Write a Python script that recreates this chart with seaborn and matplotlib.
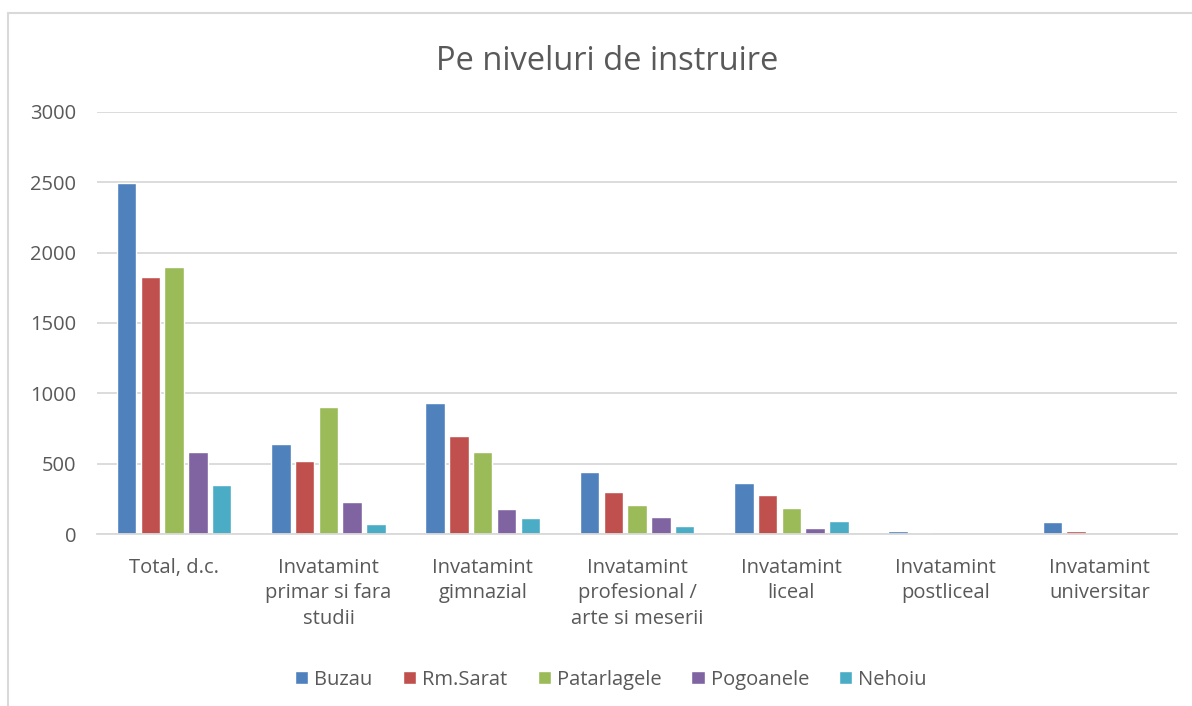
import matplotlib.pyplot as plt
import seaborn as sns
import pandas as pd
from matplotlib.lines import Line2D

# date
categorii = ['Total, d.c.', 'Invatamint\nprimar si fara\nstudii', 'Invatamint\ngimnazial',
             'Invatamint\nprofesional /\narte si meserii', 'Invatamint\nliceal',
             'Invatamint\npostliceal', 'Invatamint\nuniversitar']
buzau = [2495, 638, 929, 443, 365, 24, 88]
rm_sarat = [1829, 519, 697, 299, 275, 10, 18]
patarlagele = [1896, 905, 583, 204, 185, 3, 3]
pogoanele = [581, 228, 178, 121, 45, 0, 1]
nehoiu = [348, 71, 114, 57, 90, 3, 3]
serii = ['Buzau', 'Rm.Sarat', 'Patarlagele', 'Pogoanele', 'Nehoiu']
culori = ['#4f81bd', '#c0504d', '#9bbb59', '#8064a2', '#4bacc6']

df = pd.DataFrame({'Buzau': buzau, 'Rm.Sarat': rm_sarat, 'Patarlagele': patarlagele,
                   'Pogoanele': pogoanele, 'Nehoiu': nehoiu}, index=categorii)
df = df.reset_index().melt(id_vars='index', var_name='serie', value_name='valoare')

sns.set_style('white')
plt.rcParams['font.family'] = ['Open Sans', 'DejaVu Sans']
gri = '#595959'

fig = plt.figure(figsize=(11.92, 7.06), dpi=100)
ax = fig.add_axes([0.0814, 0.2436, 0.9060, 0.5978])
sns.barplot(data=df, x='index', y='valoare', hue='serie', hue_order=serii,
            palette=culori, width=0.77, gap=0.18, saturation=1, ax=ax)

ax.set_ylim(0, 3000)
ax.set_yticks(range(0, 3001, 500))
ax.yaxis.grid(True, color='#d9d9d9', linewidth=1.3)
ax.set_axisbelow(True)
for s in ['left', 'right', 'top']:
    ax.spines[s].set_visible(False)
ax.spines['bottom'].set_color('#d9d9d9')
ax.spines['bottom'].set_linewidth(1.3)
ax.tick_params(axis='both', length=0, labelsize=14.5, colors=gri)
ax.tick_params(axis='y', pad=15)
ax.tick_params(axis='x', pad=17)
ax.set_xlabel('')
ax.set_ylabel('')
for t in ax.get_xticklabels():
    t.set_linespacing(1.38)

fig.text(0.509, 0.913, 'Pe niveluri de instruire', ha='center', va='center',
         fontsize=23.5, color=gri)

ax.legend(loc='center', bbox_to_anchor=(0.476, -0.345), ncol=5, frameon=False,
          fontsize=14.5, labelcolor=gri, handlelength=0.65, handleheight=0.65,
          handletextpad=0.3, columnspacing=1.5)

# chenar
fig.add_artist(Line2D([8 / 1192, 8 / 1192], [0, 1 - 13 / 706], color='#d9d9d9',
                      linewidth=1.5, transform=fig.transFigure))
fig.add_artist(Line2D([8 / 1192, 1], [1 - 13 / 706, 1 - 13 / 706], color='#d9d9d9',
                      linewidth=1.5, transform=fig.transFigure))

fig.savefig('out.png', dpi=100)
